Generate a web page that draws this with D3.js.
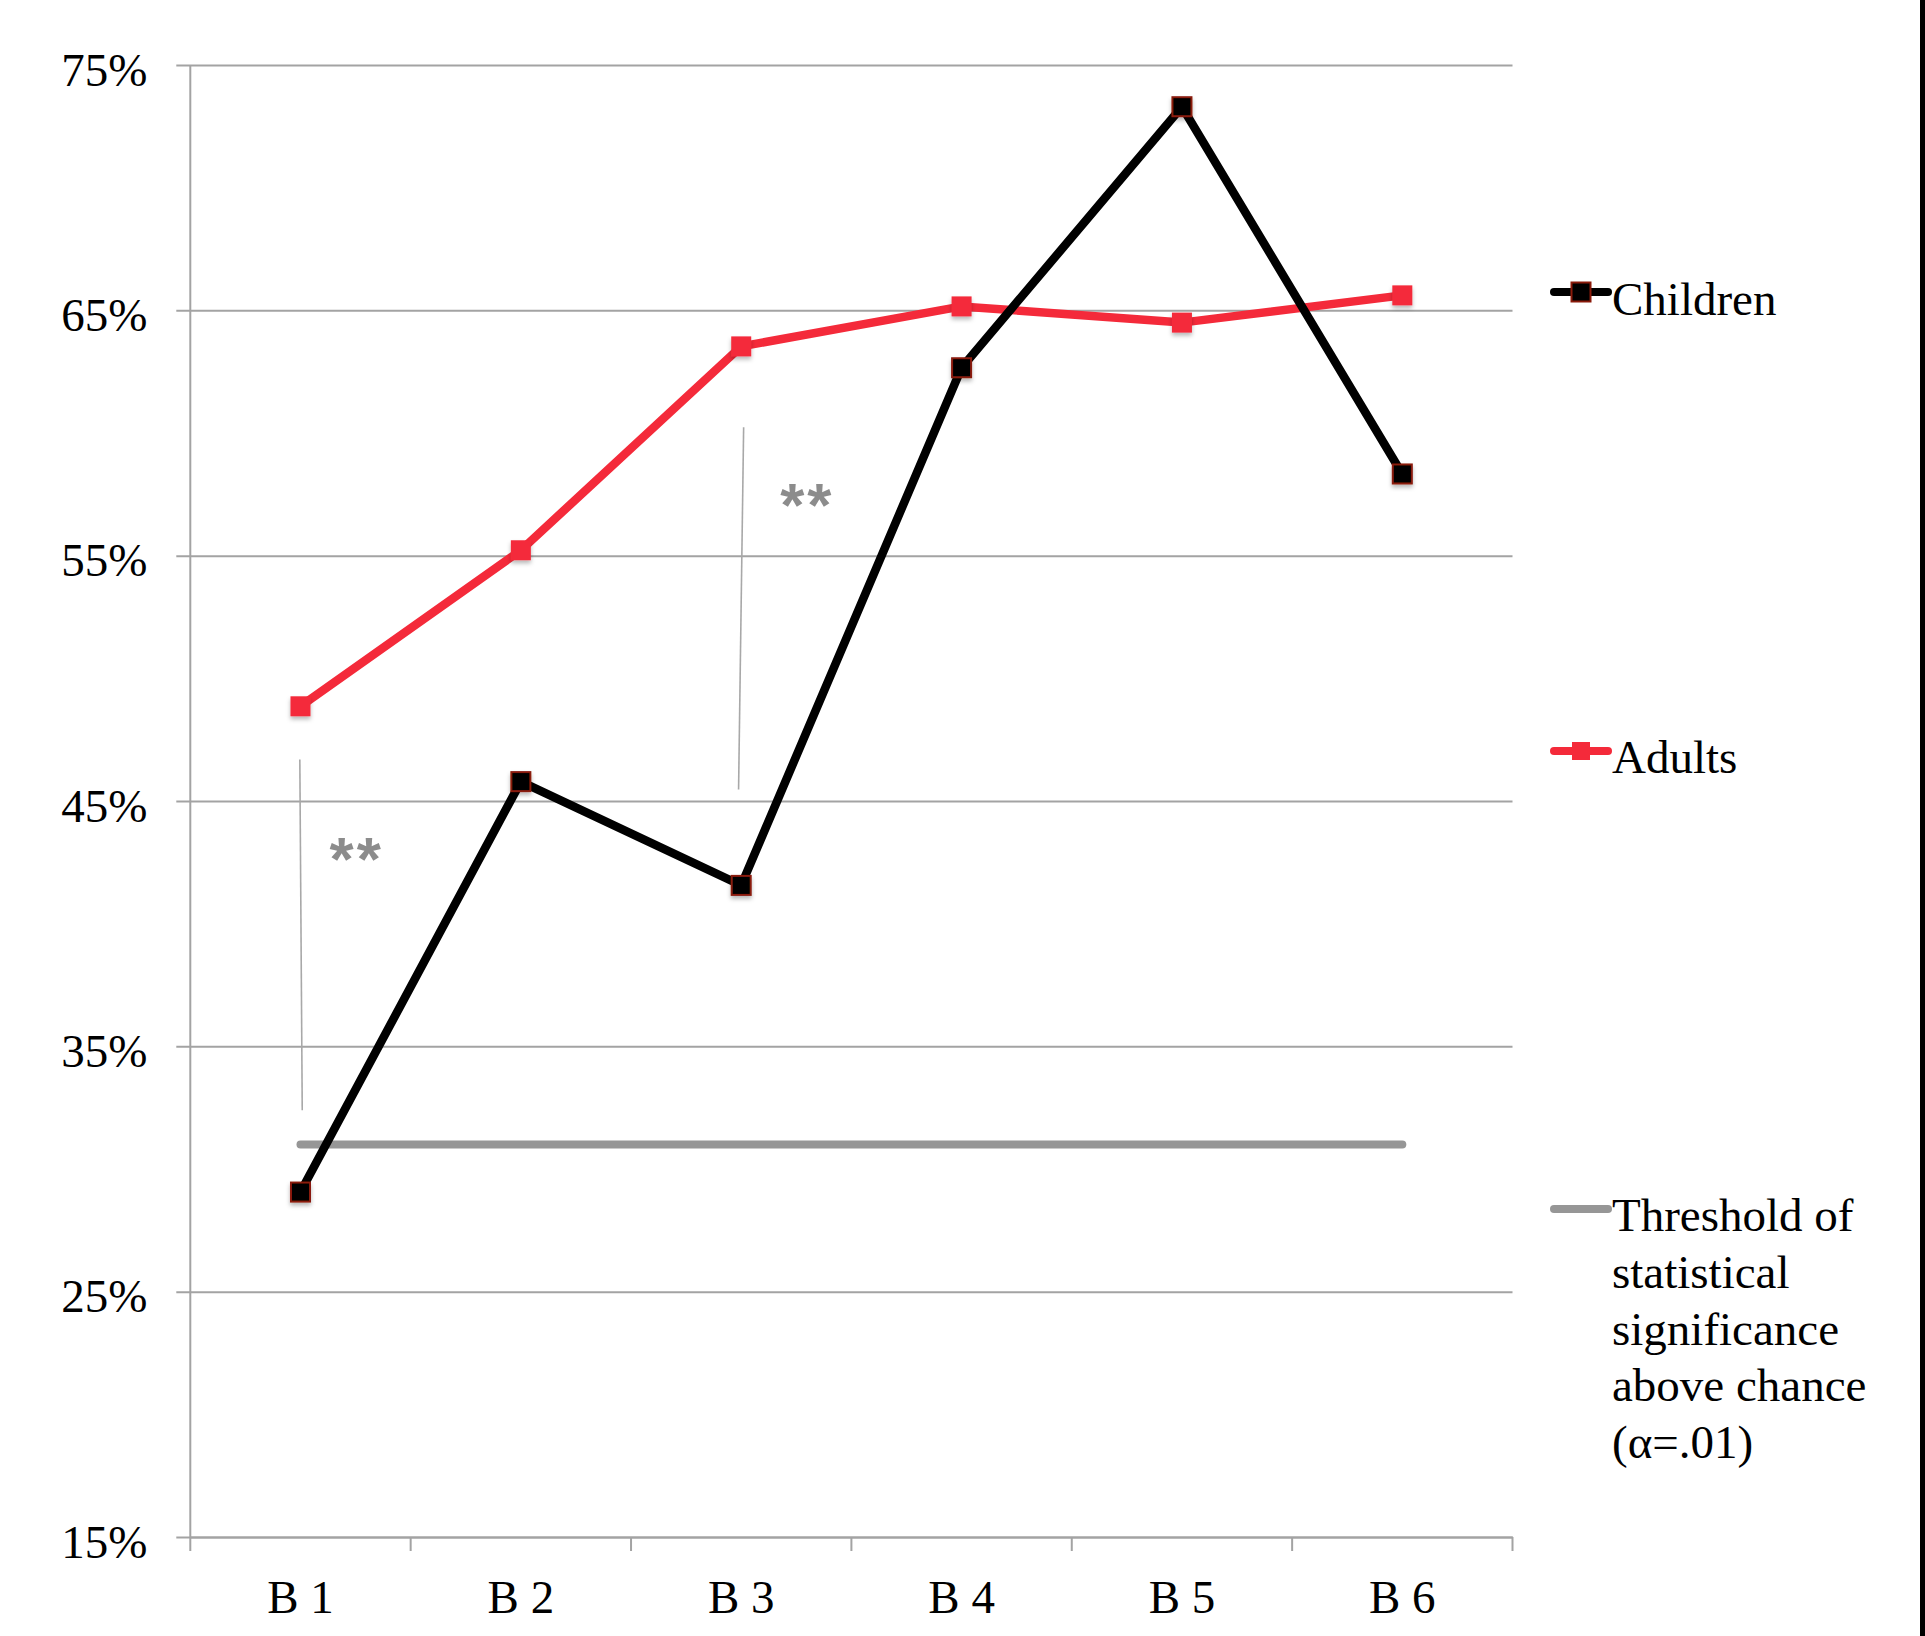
<!DOCTYPE html>
<html>
<head>
<meta charset="utf-8">
<script src="https://cdn.jsdelivr.net/npm/d3@7"></script>
<style>
  html, body { margin: 0; padding: 0; background: #fff; }
  svg { display: block; }
</style>
</head>
<body>
<div id="chart"></div>
<script>
// ---------------- DATA ----------------
const categories = ["B 1", "B 2", "B 3", "B 4", "B 5", "B 6"];
const children = [29.06, 45.79, 41.56, 62.66, 73.3, 58.33];
const adults = [48.86, 55.22, 63.53, 65.16, 64.5, 65.61];
const threshold = 31;
const yTicks = [15, 25, 35, 45, 55, 65, 75];
const seriesNames = ["Children", "Adults"];
const thresholdLabel = ["Threshold of", "statistical", "significance", "above chance", "(\u03b1=.01)"];
// significance brackets: category, top value, bottom value
const sigCats = ["B 1", "B 3"];
const sigTop = [46.69, 60.23];
const sigBottom = [32.39, 45.47];
const sigTopShift = [-0.003, 0.011];
const sigBottomShift = [0.008, -0.012];
const starLabel = "**";
const starValue = [43.2, 57.65];
const starShift = [0.255, 0.3];

// ---------------- LAYOUT ----------------
const W = 1925, H = 1636;
const pLeft = 190.3, pRight = 1512.5, pTop = 65, pBottom = 1537;
const serif = "'Liberation Serif', 'Times New Roman', serif";
const red = "#f42a3a";
const gridColor = "#a3a3a3";

const svg = d3.select("#chart").append("svg")
  .attr("width", W).attr("height", H);

const defs = svg.append("defs");
const f = defs.append("filter").attr("id", "shadow")
  .attr("x", "-50%").attr("y", "-50%").attr("width", "200%").attr("height", "200%");
f.append("feDropShadow").attr("dx", 0).attr("dy", 3).attr("stdDeviation", 2)
  .attr("flood-color", "#000").attr("flood-opacity", 0.28);

const x = d3.scaleBand().domain(categories).range([pLeft, pRight]).padding(0);
const cx = c => x(c) + x.bandwidth() / 2;
const y = d3.scaleLinear().domain([15, 75]).range([pBottom, pTop]);

// gridlines + y axis ticks
const yAxis = d3.axisLeft(y).tickValues(yTicks)
  .tickSize(-(pRight - pLeft)).tickFormat(d => d + "%");
const gy = svg.append("g").attr("transform", `translate(${pLeft},0)`).call(yAxis);
gy.select(".domain").remove();
gy.selectAll(".tick line").attr("stroke", gridColor).attr("stroke-width", 2).attr("x1", -14);
gy.selectAll(".tick text")
  .attr("x", -43).attr("dy", null).attr("y", 20)
  .attr("font-family", serif).attr("font-size", 47).attr("fill", "#000")
  .attr("text-anchor", "end").attr("dominant-baseline", "alphabetic");

// y axis line
svg.append("line").attr("x1", pLeft).attr("x2", pLeft).attr("y1", pTop).attr("y2", pBottom)
  .attr("stroke", gridColor).attr("stroke-width", 2);

// x axis
const xAxis = d3.axisBottom(x).tickSize(0).tickFormat(d => d);
const gx = svg.append("g").attr("transform", `translate(0,${pBottom})`).call(xAxis);
gx.select(".domain").attr("stroke", gridColor).attr("stroke-width", 2);
gx.selectAll(".tick text")
  .attr("y", 76).attr("dy", null)
  .attr("font-family", serif).attr("font-size", 47).attr("fill", "#000");
// x tick marks at band boundaries
const boundaries = categories.map(c => x(c)).concat([pRight]);
svg.append("g").selectAll("line").data(boundaries).join("line")
  .attr("x1", d => d).attr("x2", d => d).attr("y1", pBottom).attr("y2", pBottom + 14)
  .attr("stroke", gridColor).attr("stroke-width", 2);

// significance brackets
sigCats.forEach((c, i) => {
  const bw = x.bandwidth();
  svg.append("line")
    .attr("x1", cx(c) + sigTopShift[i] * bw).attr("y1", y(sigTop[i]))
    .attr("x2", cx(c) + sigBottomShift[i] * bw).attr("y2", y(sigBottom[i]))
    .attr("stroke", "#a8a8a8").attr("stroke-width", 1.6);
  svg.append("text")
    .attr("x", cx(c) + starShift[i] * bw).attr("y", y(starValue[i]) + 35)
    .attr("text-anchor", "middle")
    .attr("font-family", "'Liberation Sans', Arial, sans-serif")
    .attr("font-size", 62).attr("font-weight", "bold").attr("letter-spacing", 3)
    .attr("fill", "#8c8c8c").text(starLabel);
});

// threshold line
svg.append("line")
  .attr("x1", cx(categories[0])).attr("x2", cx(categories[categories.length - 1]))
  .attr("y1", y(threshold)).attr("y2", y(threshold))
  .attr("stroke", "#969696").attr("stroke-width", 8).attr("stroke-linecap", "round");

const line = d3.line().x((d, i) => cx(categories[i])).y(d => y(d));

// adults
svg.append("path").datum(adults).attr("d", line)
  .attr("fill", "none").attr("stroke", red).attr("stroke-width", 8.5)
  .attr("stroke-linejoin", "miter");
svg.append("g").selectAll("rect").data(adults).join("rect")
  .attr("x", (d, i) => cx(categories[i]) - 10).attr("y", d => y(d) - 10)
  .attr("width", 20).attr("height", 20).attr("fill", red)
  .attr("filter", "url(#shadow)");

// children
svg.append("path").datum(children).attr("d", line)
  .attr("fill", "none").attr("stroke", "#000").attr("stroke-width", 8.5)
  .attr("stroke-linejoin", "miter");
svg.append("g").selectAll("rect").data(children).join("rect")
  .attr("x", (d, i) => cx(categories[i]) - 9.5).attr("y", d => y(d) - 9.5)
  .attr("width", 19).attr("height", 19).attr("fill", "#000")
  .attr("stroke", "#8a1a0a").attr("stroke-width", 2)
  .attr("filter", "url(#shadow)");

// legend
const lg = svg.append("g");
const lx1 = 1554, lx2 = 1608, lmx = 1581, ltx = 1612;
// Children
lg.append("line").attr("x1", lx1).attr("x2", lx2).attr("y1", 292).attr("y2", 292)
  .attr("stroke", "#000").attr("stroke-width", 8).attr("stroke-linecap", "round");
lg.append("rect").attr("x", lmx - 9.5).attr("y", 292 - 9.5).attr("width", 19).attr("height", 19)
  .attr("fill", "#000").attr("stroke", "#8a1a0a").attr("stroke-width", 2);
lg.append("text").attr("x", ltx).attr("y", 315).attr("font-family", serif)
  .attr("font-size", 47).attr("fill", "#000").text(seriesNames[0]);
// Adults
lg.append("line").attr("x1", lx1).attr("x2", lx2).attr("y1", 751).attr("y2", 751)
  .attr("stroke", red).attr("stroke-width", 8).attr("stroke-linecap", "round");
lg.append("rect").attr("x", lmx - 9).attr("y", 751 - 9).attr("width", 18).attr("height", 18)
  .attr("fill", red);
lg.append("text").attr("x", ltx).attr("y", 773).attr("font-family", serif)
  .attr("font-size", 47).attr("fill", "#000").text(seriesNames[1]);
// Threshold
lg.append("line").attr("x1", lx1).attr("x2", lx2).attr("y1", 1209).attr("y2", 1209)
  .attr("stroke", "#969696").attr("stroke-width", 8).attr("stroke-linecap", "round");
lg.append("g").selectAll("text").data(thresholdLabel).join("text")
  .attr("x", ltx).attr("y", (d, i) => 1231 + i * 56.8)
  .attr("font-family", serif).attr("font-size", 47).attr("fill", "#000")
  .text(d => d);

// right edge dark bar
svg.append("rect").attr("x", 1920).attr("y", 0).attr("width", 5).attr("height", H).attr("fill", "#000");
</script>
</body>
</html>
